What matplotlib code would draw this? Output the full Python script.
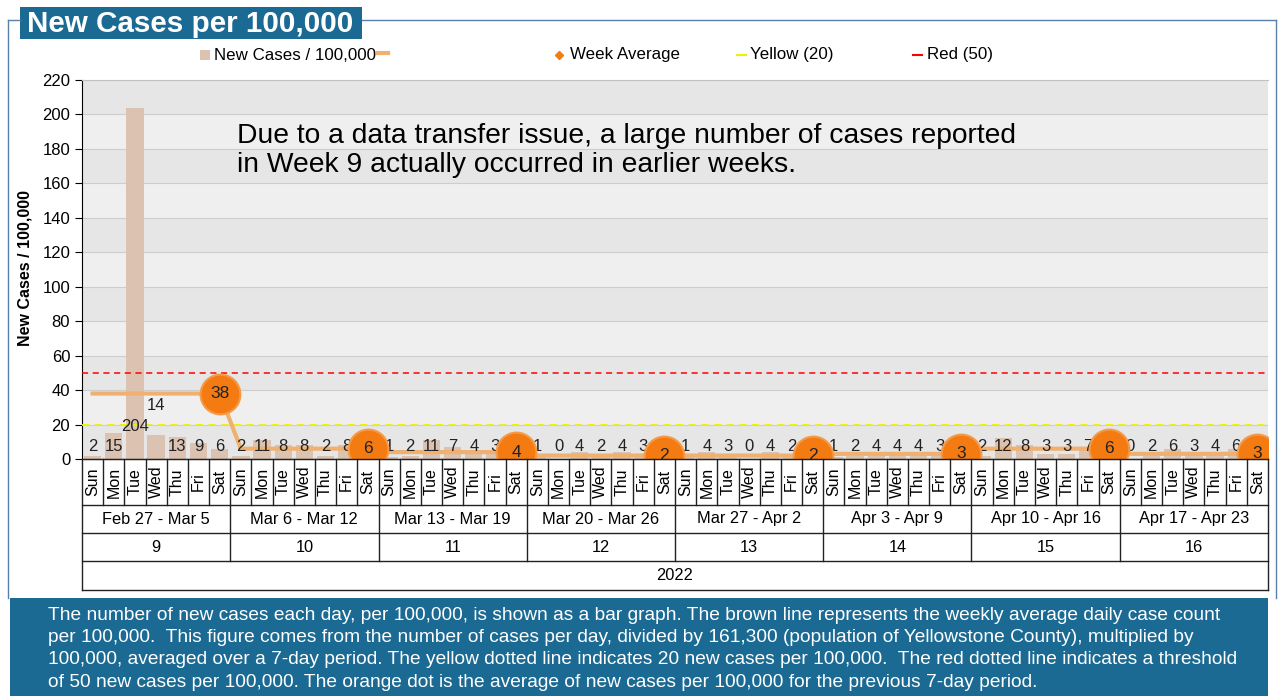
# New cases per 100,000 - Yellowstone County, weeks 9-16 of 2022
import numpy as np
import matplotlib.pyplot as plt
from matplotlib.patches import Rectangle

plt.rcParams['font.family'] = ['Liberation Sans', 'DejaVu Sans']

days = ['Sun', 'Mon', 'Tue', 'Wed', 'Thu', 'Fri', 'Sat']
weeks = [9, 10, 11, 12, 13, 14, 15, 16]
week_ranges = ['Feb 27 - Mar 5', 'Mar 6 - Mar 12', 'Mar 13 - Mar 19', 'Mar 20 - Mar 26',
               'Mar 27 - Apr 2', 'Apr 3 - Apr 9', 'Apr 10 - Apr 16', 'Apr 17 - Apr 23']
year = '2022'

new_cases = [2, 15, 204, 14, 13, 9, 6,
             2, 11, 8, 8, 2, 8, 3,
             1, 2, 11, 7, 4, 3, 0,
             1, 0, 4, 2, 4, 3, 1,
             1, 4, 3, 0, 4, 2, 1,
             1, 2, 4, 4, 4, 3, 3,
             2, 12, 8, 3, 3, 7, 7,
             0, 2, 6, 3, 4, 6, 2]
week_avg = [38, 6, 4, 2, 2, 3, 6, 3]
yellow_level = 20
red_level = 50

note = ("Due to a data transfer issue, a large number of cases reported\n"
        "in Week 9 actually occurred in earlier weeks.")
footer = [
    "The number of new cases each day, per 100,000, is shown as a bar graph. The brown line represents the weekly average daily case count",
    "per 100,000.  This figure comes from the number of cases per day, divided by 161,300 (population of Yellowstone County), multiplied by",
    "100,000, averaged over a 7-day period. The yellow dotted line indicates 20 new cases per 100,000.  The red dotted line indicates a threshold",
    "of 50 new cases per 100,000. The orange dot is the average of new cases per 100,000 for the previous 7-day period.",
]

BLUE = '#1b6a93'
BAR = '#dcc2b1'
AVG = '#f0b070'
DOT = '#f47b12'

W, H = 1280, 696
fig = plt.figure(figsize=(W / 100, H / 100), dpi=100)

# pixel-space overlay for frame, title, legend, footer
deco = fig.add_axes([0, 0, 1, 1], zorder=0)
deco.set_xlim(0, W)
deco.set_ylim(H, 0)
deco.axis('off')

deco.plot([8, 8], [20, 598], color='#5a7fa8', lw=1)
deco.plot([8, 20], [20, 20], color='#5a7fa8', lw=1)
deco.plot([362, 1276], [20, 20], color='#5a7fa8', lw=1)
deco.plot([1276, 1276], [20, 598], color='#5a7fa8', lw=1)
deco.add_patch(Rectangle((20, 7), 342, 32, facecolor=BLUE, edgecolor='none'))
deco.text(27, 24, 'New Cases per 100,000', color='white', fontsize=21.3,
          fontweight='bold', va='center', ha='left')

# legend
ly = 55
deco.add_patch(Rectangle((200, ly - 5), 10, 10, facecolor=BAR, edgecolor='none'))
deco.text(214, ly, 'New Cases / 100,000', fontsize=12.2, va='center')
deco.plot([378, 388], [ly - 2, ly - 2], color=AVG, lw=3)
deco.plot([559], [ly], marker='D', ms=4, color=DOT)
deco.text(570, ly, 'Week Average', fontsize=12.2, va='center')
deco.plot([737, 746], [ly, ly], color='#f0f000', lw=1.5)
deco.text(750, ly, 'Yellow (20)', fontsize=12.2, va='center')
deco.plot([913, 922], [ly, ly], color='red', lw=1.5)
deco.text(927, ly, 'Red (50)', fontsize=12.2, va='center')

# footer
deco.add_patch(Rectangle((10, 598), 1258, 98, facecolor=BLUE, edgecolor='none'))
for i, line in enumerate(footer):
    deco.text(48, 615 + i * 22.5, line, color='white', fontsize=13.8, va='center')

deco.text(25, 268, 'New Cases / 100,000', rotation=90, fontsize=11.5,
          fontweight='bold', va='center', ha='center')

# main chart
x = np.arange(len(new_cases))
ax = fig.add_axes([82 / W, 1 - 459 / H, 1186 / W, 379 / H], zorder=2)
ax.set_xlim(-0.5, len(new_cases) - 0.5)
ax.set_ylim(0, 220)
for k, y0 in enumerate(range(0, 220, 20)):
    ax.axhspan(y0, y0 + 20, color='#e6e6e6' if k % 2 == 0 else '#efefef', zorder=0, lw=0)
for y0 in range(20, 221, 20):
    ax.axhline(y0, color='#cdcdcd', lw=0.8, zorder=0.5)

ax.bar(x, new_cases, width=0.82, color=BAR, zorder=2)
ax.axhline(yellow_level, color='#f0f000', lw=1.3, ls=(0, (4, 3)), zorder=3)
ax.axhline(red_level, color='red', lw=1.1, ls=(0, (4, 3)), zorder=3)

daily_avg = np.repeat(week_avg, len(days))
ax.plot(x, daily_avg, color=AVG, lw=3, zorder=4)

for i, v in enumerate(new_cases):
    ly_ = 7
    if v > 100:
        ly_ = 19
    elif i > 0 and new_cases[i - 1] > 100:
        ly_ = 31
    ax.text(i, ly_, str(v), ha='center', va='center', fontsize=12, color='#222222', zorder=5)

sat = x[len(days) - 1::len(days)]
ax.scatter(sat, week_avg, s=820, color=DOT, edgecolor='#f59a48', lw=1.5, zorder=6)
for sx, a in zip(sat, week_avg):
    ax.text(sx, a, str(a), ha='center', va='center', fontsize=12.5, color='#222222', zorder=7)

ax.text(6.82, 179, note, fontsize=20.3, va='center', ha='left', linespacing=1.15, zorder=5)

ax.set_yticks(range(0, 221, 20))
ax.tick_params(axis='y', labelsize=12, length=5, color='black')
ax.set_xticks([])
ax.spines['right'].set_visible(False)
ax.spines['top'].set_color('#c0c0c0')
ax.spines['left'].set_color('black')
ax.spines['bottom'].set_color('black')

# category table below the axis
tb = fig.add_axes([82 / W, 1 - 590 / H, 1186 / W, 131 / H], zorder=2)
tb.set_xlim(ax.get_xlim())
tb.set_ylim(0, 131)
tb.axis('off')
n = len(new_cases)
lc = '#222222'
for yy in [0, 29, 57, 85, 131]:
    tb.plot([-0.5, n - 0.5], [yy, yy], color=lc, lw=1, clip_on=False)
tb.plot([-0.5, -0.5], [0, 131], color=lc, lw=1, clip_on=False)
tb.plot([n - 0.5, n - 0.5], [0, 131], color=lc, lw=1, clip_on=False)
for i in range(1, n):
    top = 29 if i % len(days) == 0 else 85
    tb.plot([i - 0.5, i - 0.5], [top, 131], color=lc, lw=1, clip_on=False)
for i in range(n):
    tb.text(i, 108, days[i % len(days)], rotation=90, ha='center', va='center', fontsize=11.5)
for k, (wk, rng) in enumerate(zip(weeks, week_ranges)):
    cx = k * len(days) + (len(days) - 1) / 2
    tb.text(cx, 71, rng, ha='center', va='center', fontsize=11.8)
    tb.text(cx, 43, str(wk), ha='center', va='center', fontsize=11.8)
tb.text((n - 1) / 2, 14.5, year, ha='center', va='center', fontsize=11.8)

fig.savefig('out.png', dpi=100)
